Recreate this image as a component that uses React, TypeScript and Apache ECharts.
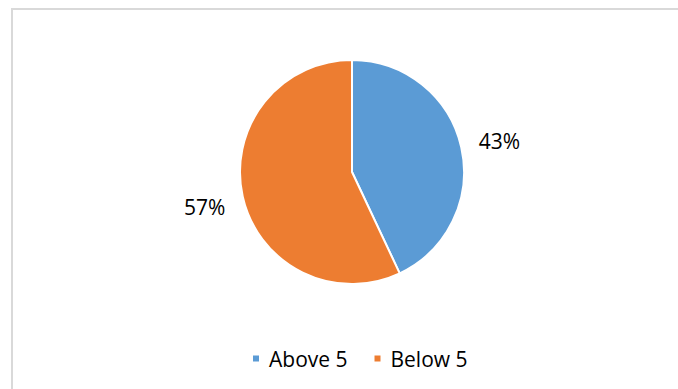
import React, { useEffect, useRef } from "react";
import * as echarts from "echarts";

const categories = ["Above 5", "Below 5"];
const values = [43, 57];
const colors = ["#5B9BD5", "#ED7D31"];

export default function App() {
  const ref = useRef<HTMLDivElement>(null);
  useEffect(() => {
    document.body.style.margin = "0";
    const chart = echarts.init(ref.current!, null, { renderer: "svg" });
    const data = categories.map((name, i) => ({
      name,
      value: values[i],
      itemStyle: { color: colors[i] },
    }));
    chart.setOption({
      animation: false,
      backgroundColor: "#ffffff",
      graphic: [
        {
          type: "rect",
          shape: { x: 12, y: 9, width: 720, height: 420 },
          style: { fill: "none", stroke: "#d9d9d9", lineWidth: 2 },
          silent: true,
        },
      ],
      legend: {
        data: categories,
        top: 343,
        left: 246,
        icon: "rect",
        itemWidth: 8,
        itemHeight: 8,
        itemGap: 25,
        textStyle: {
          fontFamily: "Open Sans",
          fontSize: 21,
          color: "#000",
          padding: [0, 0, 0, 4],
        },
      },
      series: [
        {
          type: "pie",
          center: [352, 172],
          radius: 112,
          startAngle: 90,
          clockwise: true,
          data,
          label: { show: false },
          labelLine: { show: false },
          itemStyle: { borderColor: "#ffffff", borderWidth: 2 },
          emphasis: { disabled: true },
          silent: true,
        },
        {
          type: "pie",
          center: [352, 174],
          radius: [140, 156],
          startAngle: 90,
          clockwise: true,
          data: categories.map((name, i) => ({ name, value: values[i] })),
          itemStyle: { color: "rgba(0,0,0,0)" },
          label: {
            show: true,
            position: "inside",
            formatter: "{d}%",
            fontFamily: "Open Sans",
            fontSize: 21,
            color: "#000",
          },
          labelLine: { show: false },
          emphasis: { disabled: true },
          silent: true,
        },
      ],
    });
    return () => chart.dispose();
  }, []);
  return (
    <div
      ref={ref}
      style={{ position: "absolute", left: 0, top: 0, width: 678, height: 389 }}
    />
  );
}
